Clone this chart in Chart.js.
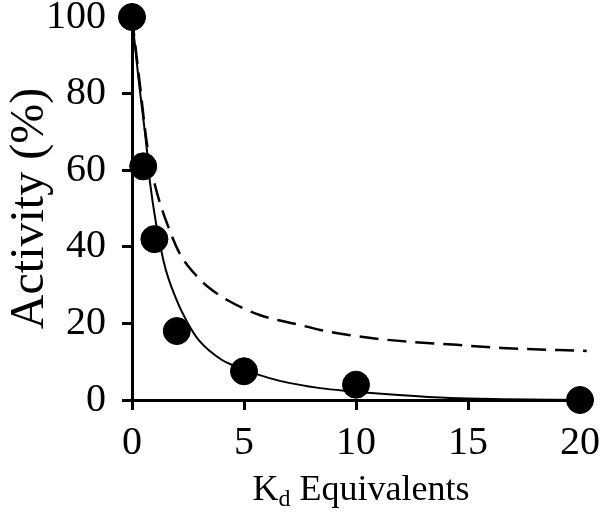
<!DOCTYPE html>
<html>
<head>
<meta charset="utf-8">
<script src="https://cdn.jsdelivr.net/npm/chart.js@4.4.0/dist/chart.umd.min.js"></script>
<style>
  body { margin: 0; background: #fff; }
  #wrap { position: relative; width: 603px; height: 521px; }
  #xTitle {
    position: absolute; left: 0; top: 470px; width: 722px; text-align: center;
    font-family: "Liberation Serif", "Times New Roman", serif; font-size: 36px; line-height: 1; color: #000;
  }
  #xTitle sub { font-size: 24px; vertical-align: -6px; line-height: 0; }
</style>
</head>
<body>
<div id="wrap">
  <canvas id="myChart" width="603" height="521"></canvas>
  <div id="xTitle">K<sub>d</sub> Equivalents</div>
</div>
<script>
// measured points
const kdEquiv = [0, 0.5, 1, 2, 5, 10, 20];
const activity = [100, 61, 42, 18, 7.5, 4, 0];

// solid fit curve
const fitX = [0, 0.27, 0.67, 0.8, 1.4, 2.0, 2.5, 3.0, 4.0, 4.5, 5.7, 6.6, 8.4, 9.75, 11.9, 14.2, 16.5, 20];
const fitY = [100, 85, 65, 57, 36.5, 26, 20, 15.5, 10.5, 9.1, 6.5, 5, 3.1, 2.3, 1.3, 0.5, 0.2, 0];

// dashed curve
const dashX = [0, 0.3, 0.7, 1.03, 1.7, 2.15, 2.5, 3.04, 3.4, 4.25, 5.7, 7.5, 8.4, 9.75, 11.4, 14.5, 16.5, 20.3];
const dashY = [100, 85, 65.5, 56, 44, 38, 35, 31.5, 29.5, 26.1, 22.2, 19.6, 18.3, 16.9, 15.7, 14.4, 13.6, 12.8];

const xTicks = [0, 5, 10, 15, 20];
const yTicks = [0, 20, 40, 60, 80, 100];

const toXY = (xs, ys) => xs.map((x, i) => ({ x: x, y: ys[i] }));

Chart.defaults.font.family = '"Liberation Serif", "Times New Roman", serif';
Chart.defaults.color = '#000';

const axisStyle = {
  grid: { display: true, drawOnChartArea: false, drawTicks: true, tickLength: 10, color: '#000', lineWidth: 3 },
  border: { display: true, color: '#000', width: 3 },
};

new Chart(document.getElementById('myChart'), {
  type: 'scatter',
  data: {
    datasets: [
      {
        label: 'data',
        data: toXY(kdEquiv, activity),
        pointRadius: 13.5,
        pointHoverRadius: 13.5,
        backgroundColor: '#000',
        borderColor: '#000',
        showLine: false,
        clip: false,
        order: 0,
      },
      {
        label: 'fit',
        data: toXY(fitX, fitY),
        showLine: true,
        pointRadius: 0,
        borderColor: '#000',
        borderWidth: 2,
        cubicInterpolationMode: 'monotone',
        clip: false,
        order: 1,
      },
      {
        label: 'dashed',
        data: toXY(dashX, dashY),
        showLine: true,
        pointRadius: 0,
        borderColor: '#000',
        borderWidth: 2.5,
        borderDash: [19, 9],
        cubicInterpolationMode: 'monotone',
        clip: false,
        order: 2,
      },
    ],
  },
  options: {
    responsive: false,
    animation: false,
    layout: { padding: { left: 0, top: 17, right: 23, bottom: 0 } },
    plugins: { legend: { display: false }, tooltip: { enabled: false } },
    scales: {
      x: {
        type: 'linear',
        min: 0,
        max: 20,
        ...axisStyle,
        afterBuildTicks: (s) => { s.ticks = xTicks.map(v => ({ value: v })); },
        ticks: { font: { size: 40 }, padding: 9, maxRotation: 0 },
        afterFit: (s) => { s.height = 121; s.paddingLeft = 0; s.paddingRight = 0; },
      },
      y: {
        type: 'linear',
        min: 0,
        max: 100,
        ...axisStyle,
        afterBuildTicks: (s) => { s.ticks = yTicks.map(v => ({ value: v })); },
        ticks: { font: { size: 40 }, padding: 16 },
        title: { display: true, text: 'Activity (%)', font: { size: 48 }, padding: { top: 2, bottom: 0 } },
        afterFit: (s) => { s.width = 132; s.paddingTop = 0; s.paddingBottom = 0; },
      },
    },
  },
});
</script>
</body>
</html>
